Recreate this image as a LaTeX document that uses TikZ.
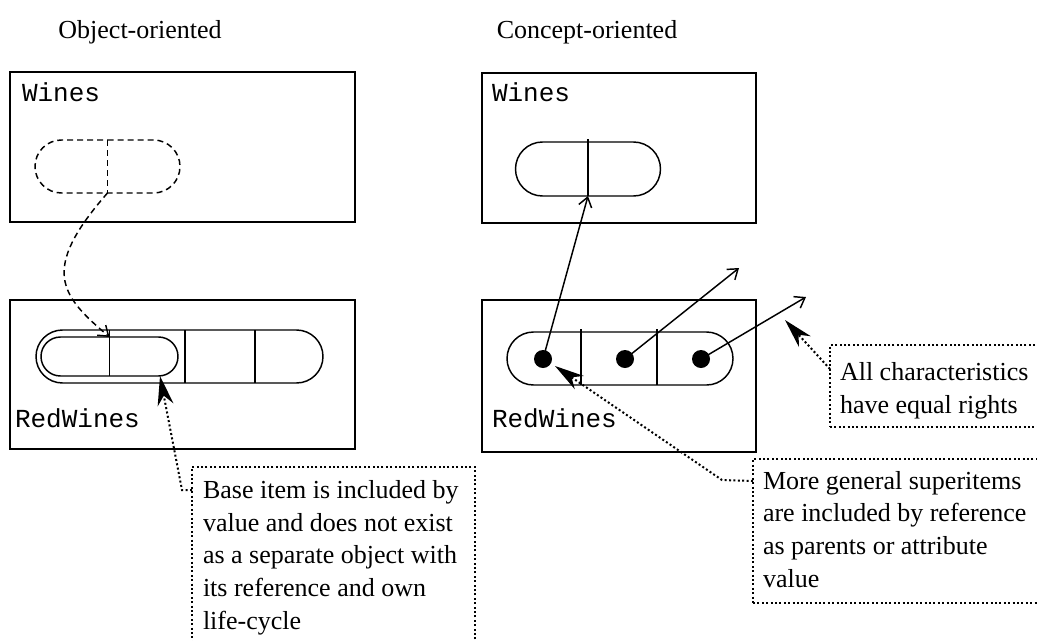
\documentclass[tikz,border=0pt]{standalone}
\usepackage{fontspec}
\setmainfont{Liberation Serif}
\setmonofont{Liberation Mono}
\usetikzlibrary{arrows.meta,shapes.misc}

\begin{document}
\begin{tikzpicture}[x=0.75pt,y=-0.75pt,
  every node/.style={inner sep=0pt, outer sep=0pt},
  frame/.style={draw, line width=2.2pt, rectangle},
  thin/.style={line width=1.1pt},
  pill/.style={draw, thin, rounded rectangle},
  dashline/.style={dash pattern=on 4.5pt off 3pt},
  dotline/.style={line width=1.5pt, dash pattern=on 1.5pt off 1.8pt},
  callout/.style={draw, dotline, rectangle},
  title/.style={font=\fontsize{19.5}{24}\selectfont, anchor=base},
  label/.style={font=\ttfamily\fontsize{19.5}{24}\selectfont, anchor=base west},
  % multi-line notes are placed by the baseline of their last line
  note/.style={font=\fontsize{19.5}{24.4}\selectfont, align=left, anchor=base west},
  dot/.style={circle, fill, minimum size=13.5pt},
  open/.style={thin, -{Straight Barb[length=7pt,width=10pt]}},
  pointer/.style={dotline, -{Stealth[length=22pt,width=12pt,inset=7pt]}},
]
\useasboundingbox (0,0) rectangle (1037,640);
\clip (0,0) rectangle (1037,640);

% column headings
\node[title] (t1) at (140,38) {Object-oriented};
\node[title] (t2) at (587,38) {Concept-oriented};

% concept frames
\node[frame, minimum width=258.75pt, minimum height=112.5pt] (owines) at (182.5,147) {};
\node[frame, minimum width=258.75pt, minimum height=111.75pt] (ored) at (182.5,374.5) {};
\node[frame, minimum width=205.5pt, minimum height=112.5pt] (cwines) at (619,148) {};
\node[frame, minimum width=205.5pt, minimum height=114pt] (cred) at (619,376) {};

\node[label] (l1) at (22,101) {Wines};
\node[label] (l2) at (15,427) {RedWines};
\node[label] (l3) at (492,101) {Wines};
\node[label] (l4) at (492,427) {RedWines};

% object-oriented items
\node[pill, dashline, minimum width=108.75pt, minimum height=39.75pt] (op) at (107.5,166.5) {};
\draw[thin, dashline] (op.north) -- (op.south);

\node[pill, minimum width=215.25pt, minimum height=39.75pt] (orow) at (179.5,356.5) {};
\node[pill, minimum width=102.75pt, minimum height=29.25pt] (obase) at (109.5,356.5) {};
\draw[thin] (obase.south |- orow.north) -- (obase.south);
\draw[thin] (185,0 |- orow.north) -- (185,0 |- orow.south);
\draw[thin] (255,0 |- orow.north) -- (255,0 |- orow.south);

\draw[thin, dashline, -{Straight Barb[length=7pt,width=10pt]}]
  (op.south) .. controls (40,270) and (60,295) .. (obase.north);

% concept-oriented items
\node[pill, minimum width=108.75pt, minimum height=40.5pt] (cp) at (588,169) {};
\draw[thin] ([yshift=2pt]cp.north) -- (cp.south);

\node[pill, minimum width=169.5pt, minimum height=39.75pt] (crow) at (620,358.5) {};
\draw[thin] (581,329) -- (581,0 |- crow.south);
\draw[thin] (657,329) -- (657,0 |- crow.south);

\node[dot] (d1) at (543,359) {};
\node[dot] (d2) at (625,359) {};
\node[dot] (d3) at (701,359) {};

\coordinate (e2) at (739,268);
\coordinate (e3) at (806,297);
\draw[open] (d1.center) -- (cp.south);
\draw[open] (d2.center) -- (e2);
\draw[open] (d3.center) -- (e3);

% annotations
\node[callout, minimum width=212.25pt, minimum height=144.75pt] (n1) at (333.5,563.5) {};
\node[note] (n1t) at (203,629) {Base item is included by\\value and does not exist\\as a separate object with\\its reference and own\\life-cycle};

\node[callout, minimum width=222.75pt, minimum height=108pt] (n2) at (901.5,531) {};
\node[note] (n2t) at (763,587) {More general superitems\\are included by reference\\as parents or attribute\\value};

\node[callout, minimum width=165pt, minimum height=61.5pt] (n3) at (940,386) {};
\node[note] (n3t) at (840,413) {All characteristics\\have equal rights};

\coordinate (p1) at (160,376);
\coordinate (p2) at (555,366);
\coordinate (p3) at (785,320);
\draw[pointer] (n1.west |- 0,490) -- (182,490) -- (p1);
\draw[pointer] (n2.west |- 0,481) -- (722,480) -- (p2);
\draw[pointer] (n3.west |- 0,369) -- (p3);
\end{tikzpicture}
\end{document}
